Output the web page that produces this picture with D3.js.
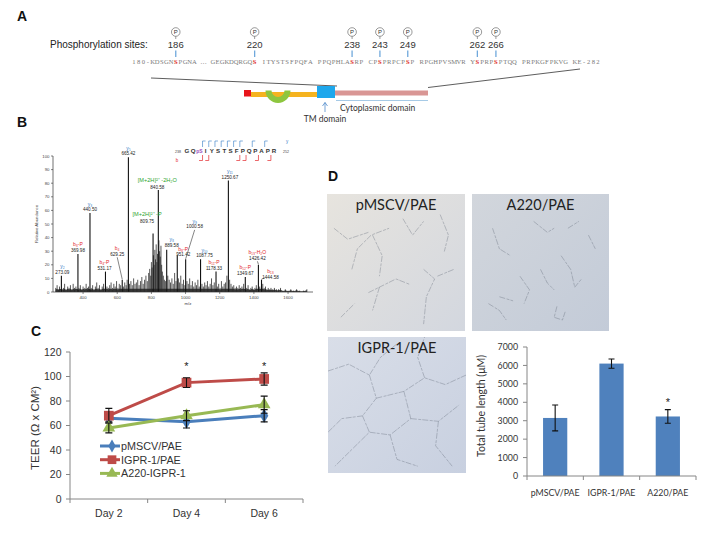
<!DOCTYPE html>
<html><head><meta charset="utf-8">
<script src="https://cdn.jsdelivr.net/npm/d3@7/dist/d3.min.js"></script>
<style>body{margin:0;background:#fff;overflow:hidden}</style>
</head><body><svg id="fig" width="704" height="533"></svg>
<script>
// ================= DATA =================
// Panel A: phosphorylation sites
const seqText = "180-KDSGNSPGNA \u2026 GEGKDQRGQS ITYSTSFPQFA PPQPHLASRP CPSPRPCPSP RPGHPVSMVR YSPRPSPTQQ PRPKGFPKVG KE-282";
const phosphoSites = [186, 220, 238, 243, 249, 262, 266];
const phosphoCharIndex = [9, 26, 47, 53, 59, 74, 78];

// Panel B: MS/MS spectrum
const peakMz   = [273.09, 369.98, 440.50, 531.17, 629.25, 665.42, 809.75, 840.58, 889.58, 951.42, 1000.58, 1087.75, 1178.33, 1250.67, 1349.67, 1426.42, 1444.58];
const peakInt  = [12, 28, 58, 15, 9, 99, 43, 75, 31, 27, 24, 24, 15, 82, 11, 20, 9];
const peakIon  = ["y\u2082","b\u2083-P","y\u2083","b\u2084-P","b\u2084","y\u2085","[M+2H]\u00b2\u207a -P","[M+2H]\u00b2\u207a -2H\u2082O","y\u2088","b\u2088-P","y\u2089","y\u2081\u2080","b\u2081\u2081-P","y\u2081\u2081","b\u2081\u2082-P","b\u2081\u2083-H\u2082O","b\u2081\u2083"];
const peakType = ["y","b","y","b","b","y","M","M","y","b","y","y","b","y","b","b","b"];
const minorPeaks = [
 [240,3],[248,5],[256,2],[262,4],[285,3],[292,6],[300,2],[310,4],[318,3],[326,5],[334,2],[342,6],[350,3],[358,4],[376,3],[384,5],[392,2],[400,4],[410,3],[418,6],[426,3],[432,4],[448,3],[456,5],[464,2],[472,4],[480,7],[488,3],[496,5],[504,2],[512,4],[520,6],[540,4],[548,3],[556,5],[564,7],[572,3],[580,6],[588,4],[596,8],[604,3],[612,6],[620,5],[636,4],[644,7],[652,5],[658,9],[672,6],[680,8],[688,5],[696,10],[704,6],[712,7],[720,9],[728,5],[736,8],[744,11],[752,6],[760,9],[768,12],[776,8],[784,14],[790,17],[796,12],[800,22],[804,18],[812,27],[816,20],[820,31],[824,24],[828,35],[832,22],[836,28],[844,38],[848,30],[852,26],[856,34],[860,20],[864,15],[870,12],[876,9],[882,8],[896,12],[904,9],[912,7],[920,10],[928,6],[936,14],[944,8],[958,10],[964,7],[972,12],[980,6],[988,9],[996,5],[1008,8],[1016,6],[1024,10],[1032,5],[1040,8],[1048,4],[1056,7],[1064,5],[1072,9],[1080,4],[1096,6],[1104,4],[1112,7],[1120,5],[1128,8],[1136,4],[1144,6],[1152,10],[1160,5],[1168,7],[1186,4],[1194,6],[1202,3],[1210,8],[1218,4],[1226,6],[1234,7],[1242,12],[1258,9],[1266,6],[1274,4],[1282,5],[1290,3],[1298,4],[1306,3],[1314,5],[1322,3],[1330,4],[1340,6],[1358,3],[1366,5],[1374,2],[1382,3],[1390,4],[1398,2],[1406,3],[1414,5],[1434,4],[1452,6],[1460,3],[1468,4],[1476,2],[1484,3],[1492,2],[1500,3],[1510,2],[1520,3],[1532,2],[1544,2],[1556,3],[1570,1],[1584,2],[1600,1],[1616,2],[1632,1],[1650,2],[1668,1],[1690,1],[1710,2]
];
const msYTicks = [0,10,20,30,40,50,60,70,80,90,100];
const msXTicks = [400,600,800,1000,1200,1400,1600];
const pepTokens = ["G","Q","pS","I","Y","S","T","S","F","P","Q","P","A","P","R"];
const pepYBreaks = [3,4,5,6,7,8,9,11,13];
const pepBBreaks = [2,3,8,9,11,13];

// Panel C: TEER
const days = ["Day 2","Day 4","Day 6"];
const teerNames = ["pMSCV/PAE","IGPR-1/PAE","A220-IGPR-1"];
const teerPMSCV = [66, 63, 68];
const teerPMSCVErr = [3, 5, 5];
const teerIGPR = [68, 95, 98];
const teerIGPRErr = [6, 4, 5];
const teerA220 = [58, 68, 77];
const teerA220Err = [4, 4, 7];
const teerTicks = [0,20,40,60,80,100,120];
const teerSig = ["Day 4","Day 6"];

// Panel D: tube formation
const imageLabels = ["pMSCV/PAE","A220/PAE","IGPR-1/PAE"];
const tubeGroups = ["pMSCV/PAE","IGPR-1/PAE","A220/PAE"];
const tubeLength = [3150, 6100, 3230];
const tubeErr = [700, 250, 370];
const tubeTicks = [0,1000,2000,3000,4000,5000,6000,7000];
const tubeSig = ["A220/PAE"];

// ================= DRAWING =================
const svg = d3.select("#fig");
const SANS = "'Liberation Sans', Arial, sans-serif";
const CAL = "Lato, 'Open Sans', sans-serif";

// panel letters
[["A",17,21],["B",17,127],["C",31,336],["D",328,181]].forEach(([t,x,y])=>{
  svg.append("text").attr("x",x).attr("y",y).text(t)
    .attr("font-family",SANS).attr("font-weight","bold").attr("font-size",14).attr("fill","#111");
});

// ---------- Panel A ----------
const gA = svg.append("g");
const charStep = 4.64, charX0 = 134;
const charX = i => charX0 + i*charStep;
gA.append("text").attr("x",50).attr("y",48).text("Phosphorylation sites:")
  .attr("font-family",SANS).attr("font-size",10).attr("fill","#222");
gA.selectAll("text.seq").data(seqText.split("")).join("text").attr("class","seq")
  .attr("x",(d,i)=>charX(i)).attr("y",64).attr("text-anchor","middle")
  .attr("font-family","'Liberation Serif', serif").attr("font-size",6.6)
  .attr("fill",(d,i)=>phosphoCharIndex.includes(i)?"#e0302a":"#7a7a7a")
  .attr("font-weight",(d,i)=>phosphoCharIndex.includes(i)?"bold":"normal")
  .text(d=>d);
const sites = gA.selectAll("g.site").data(phosphoSites).join("g").attr("class","site")
  .attr("transform",(d,i)=>`translate(${charX(phosphoCharIndex[i])},0)`);
sites.append("circle").attr("cy",32).attr("r",4.3).attr("fill","#fff").attr("stroke","#555").attr("stroke-width",0.6);
sites.append("text").attr("y",34.2).attr("text-anchor","middle").attr("font-family",SANS).attr("font-size",6).attr("fill","#333").text("P");
sites.append("line").attr("y1",36.3).attr("y2",39).attr("stroke","#555").attr("stroke-width",0.6);
sites.append("text").attr("y",48).attr("text-anchor","middle").attr("font-family",SANS).attr("font-size",9.5).attr("fill","#333").text(d=>d);
sites.append("line").attr("y1",50.5).attr("y2",57).attr("stroke","#6fa8dc").attr("stroke-width",1.3);
// domain diagram
gA.append("line").attr("x1",151).attr("y1",78).attr("x2",337).attr("y2",86).attr("stroke","#333").attr("stroke-width",0.8);
gA.append("line").attr("x1",580).attr("y1",69).attr("x2",428).attr("y2",87.5).attr("stroke","#333").attr("stroke-width",0.8);
gA.append("rect").attr("x",251).attr("y",92).attr("width",67).attr("height",5).attr("fill","#f5b31f");
gA.append("path").attr("transform","translate(278,90.5)")
  .attr("d",d3.arc().innerRadius(6.5).outerRadius(12.5).startAngle(Math.PI/2).endAngle(3*Math.PI/2)())
  .attr("fill","#8dc63f");
gA.append("rect").attr("x",244).attr("y",90).attr("width",7).attr("height",6.5).attr("fill","#e8141b");
gA.append("rect").attr("x",335).attr("y",90.5).attr("width",93).attr("height",5).attr("fill","#d99694");
gA.append("rect").attr("x",317).attr("y",86).attr("width",18).attr("height",12).attr("fill","#1ea7ec");
gA.append("line").attr("x1",336).attr("x2",428).attr("y1",100.5).attr("y2",100.5).attr("stroke","#8fbde0").attr("stroke-width",0.8);
gA.append("text").attr("x",340).attr("y",111).text("Cytoplasmic  domain").attr("font-family",CAL).attr("font-size",8.5).attr("fill","#333");
gA.append("line").attr("x1",325).attr("x2",325).attr("y1",112).attr("y2",102.5).attr("stroke","#3b7dc4").attr("stroke-width",0.7);
gA.append("path").attr("d","M322.5,106 L325,102.5 L327.5,106").attr("fill","none").attr("stroke","#3b7dc4").attr("stroke-width",0.7);
gA.append("text").attr("x",325).attr("y",121.5).attr("text-anchor","middle").text("TM domain").attr("font-family",CAL).attr("font-size",8.5).attr("fill","#333");

// ---------- Panel B ----------
const gB = svg.append("g");
const xB = d3.scaleLinear().domain([224,1746]).range([53,313]);
const yB = d3.scaleLinear().domain([0,100]).range([292,156]);
const ionColor = {y:"#2f78c4", b:"#e3262b", M:"#2ea52e"};
gB.selectAll("line.minor").data(minorPeaks).join("line").attr("class","minor")
  .attr("x1",d=>xB(d[0])).attr("x2",d=>xB(d[0])).attr("y1",yB(0)).attr("y2",d=>yB(d[1]))
  .attr("stroke","#111").attr("stroke-width",0.7);
gB.append("path").datum(minorPeaks).attr("fill","#222").attr("opacity",0.85)
  .attr("d",d3.area().x(d=>xB(d[0])).y0(yB(0)).y1(d=>yB(Math.min(d[1],4)*0.6)));
gB.selectAll("line.major").data(peakMz).join("line").attr("class","major")
  .attr("x1",d=>xB(d)).attr("x2",d=>xB(d)).attr("y1",yB(0)).attr("y2",(d,i)=>yB(peakInt[i]))
  .attr("stroke","#111").attr("stroke-width",1.1);
// axes
gB.append("line").attr("x1",53).attr("x2",53).attr("y1",yB(0)).attr("y2",yB(100)).attr("stroke","#333").attr("stroke-width",0.7);
gB.append("line").attr("x1",53).attr("x2",313).attr("y1",yB(0)).attr("y2",yB(0)).attr("stroke","#333").attr("stroke-width",0.7);
gB.selectAll("g.yt").data(msYTicks).join("g").attr("class","yt").each(function(d){
  const g=d3.select(this);
  g.append("line").attr("x1",51).attr("x2",53).attr("y1",yB(d)).attr("y2",yB(d)).attr("stroke","#333").attr("stroke-width",0.6);
  g.append("text").attr("x",49.5).attr("y",yB(d)+1.5).attr("text-anchor","end").attr("font-family",SANS).attr("font-size",4.3).attr("fill","#444").text(d);
});
gB.selectAll("g.xt").data(msXTicks).join("g").attr("class","xt").each(function(d){
  const g=d3.select(this);
  g.append("line").attr("x1",xB(d)).attr("x2",xB(d)).attr("y1",yB(0)).attr("y2",yB(0)+2).attr("stroke","#333").attr("stroke-width",0.6);
  g.append("text").attr("x",xB(d)).attr("y",299).attr("text-anchor","middle").attr("font-family",SANS).attr("font-size",4.3).attr("fill","#444").text(d);
});
gB.append("text").attr("transform","translate(38,224) rotate(-90)").attr("text-anchor","middle").attr("font-family",SANS).attr("font-size",4.3).attr("fill","#444").text("Relative Abundance");
gB.append("text").attr("x",188).attr("y",304.5).attr("text-anchor","middle").attr("font-family",SANS).attr("font-size",4.3).attr("fill","#444").text("m/z");
// peak labels
const peakLabelLayout = [
 {dx:1,dy:-2},{dx:0,dy:-2},{dx:0,dy:-2},{dx:-1,dy:-2},{dx:-5,dy:-24,leader:1},{dx:0,dy:-2},
 {dx:-6,dy:-11},{dx:-1,dy:-1.5},{dx:5,dy:-3},{dx:6,dy:1},{dx:9,dy:-31,leader:1},{dx:4,dy:-2},
 {dx:-2,dy:-2},{dx:1.5,dy:-1.5},{dx:0,dy:-2.5},{dx:-1,dy:-5,leader:1},{dx:9,dy:-1,leader:1,lsx:-6,lsy:-1}
];
peakMz.forEach((mz,i)=>{
  const L = peakLabelLayout[i];
  const px = xB(mz), top = yB(peakInt[i]);
  const ax = px+L.dx, ay = top+L.dy;
  const big = peakType[i]==="M";
  gB.append("text").attr("x",ax).attr("y",ay-(big?6.5:5.5)).attr("text-anchor","middle")
    .attr("font-family",SANS).attr("font-size",big?5.6:5).attr("fill",ionColor[peakType[i]]).text(peakIon[i]);
  gB.append("text").attr("x",ax).attr("y",ay).attr("text-anchor","middle")
    .attr("font-family",SANS).attr("font-size",4.6).attr("fill","#222").text(mz.toFixed(2));
  if(L.leader){
    const sx = ax+(L.lsx||0), sy = ay+(L.lsy!==undefined?L.lsy:1.5);
    gB.append("line").attr("x1",sx).attr("y1",sy).attr("x2",px).attr("y2",top-0.5).attr("stroke","#333").attr("stroke-width",0.6);
  }
});
// peptide sequence annotation
const xPep = d3.scalePoint().domain(d3.range(pepTokens.length)).range([187,274]);
gB.append("text").attr("x",178).attr("y",152.5).attr("text-anchor","middle").attr("font-family",SANS).attr("font-size",3.6).attr("fill","#444").text("238");
gB.append("text").attr("x",286).attr("y",152.5).attr("text-anchor","middle").attr("font-family",SANS).attr("font-size",3.6).attr("fill","#444").text("252");
gB.selectAll("text.pep").data(pepTokens).join("text").attr("class","pep")
  .attr("x",(d,i)=>xPep(i)).attr("y",152.5).attr("text-anchor","middle")
  .attr("font-family",SANS).attr("font-weight","bold").attr("font-size",(d)=>d==="pS"?5:6.2)
  .attr("fill",d=>d==="pS"?"#9b4fc0":"#333").text(d=>d);
const half = (xPep(1)-xPep(0))/2;
gB.selectAll("path.yb").data(pepYBreaks).join("path").attr("class","yb")
  .attr("d",d=>{const x=xPep(d)-half; return `M${x},147 L${x},141 L${x+3},141`;})
  .attr("fill","none").attr("stroke","#2f78c4").attr("stroke-width",0.6);
gB.selectAll("path.bb").data(pepBBreaks).join("path").attr("class","bb")
  .attr("d",d=>{const x=xPep(d)+half; return `M${x},155 L${x},160.5 L${x-3.5},160.5`;})
  .attr("fill","none").attr("stroke","#e3262b").attr("stroke-width",0.7);
gB.append("text").attr("x",287).attr("y",142.5).attr("text-anchor","middle").attr("font-family",SANS).attr("font-size",4.5).attr("fill","#2f78c4").text("y");
gB.append("text").attr("x",177).attr("y",162).attr("text-anchor","middle").attr("font-family",SANS).attr("font-size",4.5).attr("fill","#e3262b").text("b");

// ---------- Panel C ----------
const gC = svg.append("g");
const xC = d3.scaleBand().domain(days).range([70,303]);
const yC = d3.scaleLinear().domain([0,120]).range([499,352]);
const cx = d => xC(d)+xC.bandwidth()/2;
gC.append("line").attr("x1",70).attr("x2",70).attr("y1",yC(0)).attr("y2",yC(120)).attr("stroke","#868686");
gC.append("line").attr("x1",70).attr("x2",303).attr("y1",yC(0)).attr("y2",yC(0)).attr("stroke","#868686");
teerTicks.forEach(t=>{
  gC.append("line").attr("x1",66).attr("x2",70).attr("y1",yC(t)).attr("y2",yC(t)).attr("stroke","#868686");
  gC.append("text").attr("x",61.5).attr("y",yC(t)).attr("dy","0.36em").attr("text-anchor","end")
    .attr("font-family",SANS).attr("font-size",10.5).attr("fill","#333").text(t);
});
[...days.map(d=>xC(d)),303].forEach(x=>{
  gC.append("line").attr("x1",x).attr("x2",x).attr("y1",yC(0)).attr("y2",yC(0)+4).attr("stroke","#868686");
});
days.forEach(d=>gC.append("text").attr("x",cx(d)).attr("y",516.5).attr("text-anchor","middle")
  .attr("font-family",SANS).attr("font-size",10.5).attr("fill","#333").text(d));
gC.append("text").attr("transform","translate(39,428) rotate(-90)").attr("text-anchor","middle")
  .attr("font-family",SANS).attr("font-size",11.5).attr("fill","#333").text("TEER (\u03a9 x CM\u00b2)");

const series = [
  {name:teerNames[0], vals:teerPMSCV, err:teerPMSCVErr, color:"#4a7ebb", shape:d3.symbolDiamond, size:60},
  {name:teerNames[1], vals:teerIGPR,  err:teerIGPRErr,  color:"#be4b48", shape:d3.symbolSquare,  size:95},
  {name:teerNames[2], vals:teerA220,  err:teerA220Err,  color:"#98b954", shape:d3.symbolTriangle,size:70}
];
const lineC = d3.line().x(d=>cx(d.day)).y(d=>yC(d.v));
series.forEach(s=>{
  const pts = days.map((d,i)=>({day:d,v:s.vals[i],e:s.err[i]}));
  gC.append("path").datum(pts).attr("d",lineC).attr("fill","none").attr("stroke",s.color).attr("stroke-width",3);
  gC.selectAll(null).data(pts).join("path").attr("transform",d=>`translate(${cx(d.day)},${yC(d.v)})`)
    .attr("d",d3.symbol().type(s.shape).size(s.size)).attr("fill",s.color);
  pts.forEach(d=>{
    const x=cx(d.day), y1=yC(d.v-d.e), y2=yC(d.v+d.e);
    gC.append("path").attr("d",`M${x},${y1}V${y2}M${x-3.5},${y1}H${x+3.5}M${x-3.5},${y2}H${x+3.5}`)
      .attr("stroke","#111").attr("stroke-width",1.1).attr("fill","none");
  });
});
teerSig.forEach(d=>gC.append("text").attr("x",cx(d)).attr("y",369.5).attr("text-anchor","middle")
  .attr("font-family",SANS).attr("font-size",11).attr("fill","#222").text("*"));
// legend
const leg = gC.selectAll("g.leg").data(series).join("g").attr("class","leg")
  .attr("transform",(d,i)=>`translate(100,${446+i*13.7})`);
leg.append("line").attr("x1",0).attr("x2",20).attr("stroke",d=>d.color).attr("stroke-width",3);
leg.append("path").attr("transform","translate(12,0)").attr("d",d=>d3.symbol().type(d.shape).size(d.size*0.8)()).attr("fill",d=>d.color);
leg.append("text").attr("x",21).attr("dy","0.36em").attr("font-family",SANS).attr("font-size",10.8).attr("fill","#333").text(d=>d.name);

// ---------- Panel D micrographs ----------
const defs = svg.append("defs");
const imgs = [
  {label:imageLabels[0], x:327, y:194, w:138, h:137, c1:"#e7e4de", c2:"#d3d7df"},
  {label:imageLabels[1], x:472, y:194, w:137, h:137, c1:"#d2d6dc", c2:"#c3cbd8"},
  {label:imageLabels[2], x:328, y:337, w:138, h:136, c1:"#d9dee8", c2:"#c8d0e0"}
];
const textures = [
  [[[.05,.25],[.15,.33],[.3,.28]],[[.18,.55],[.22,.4],[.32,.3],[.45,.25]],[[.33,.3],[.4,.45],[.38,.6]],[[.3,.72],[.38,.68],[.5,.62],[.6,.66]],[[.38,.68],[.33,.85]],[[.55,.18],[.62,.3],[.7,.2]],[[.7,.55],[.78,.62],[.72,.75],[.7,.95]],[[.8,.6],[.92,.55]],[[.82,.15],[.88,.3],[.85,.42]],[[.1,.9],[.2,.8]]],
  [[[.15,.25],[.2,.4],[.28,.45]],[[.45,.2],[.55,.28],[.6,.25]],[[.35,.6],[.42,.7],[.38,.8]],[[.5,.55],[.55,.65],[.6,.7]],[[.65,.45],[.72,.55],[.75,.68],[.8,.62]],[[.2,.75],[.3,.78]],[[.12,.8],[.2,.85],[.25,.92]],[[.62,.82],[.6,.9],[.66,.92],[.68,.86]],[[.85,.3],[.9,.4]],[[.7,.25],[.78,.2]]],
  [[[.0,.25],[.15,.2],[.3,.28],[.38,.15],[.5,.05]],[[.3,.28],[.35,.45],[.25,.58],[.1,.6],[0,.7]],[[.35,.45],[.55,.4],[.7,.3],[.85,.35],[1,.28]],[[.55,.4],[.6,.6],[.45,.72],[.3,.7]],[[.6,.6],[.8,.62],[.95,.5]],[[.45,.72],[.5,.9],[.65,.95]],[[.8,.62],[.78,.8],[.9,.95]],[[.25,.58],[.3,.7],[.15,.85],[.05,.95]],[[.7,.3],[.65,.15],[.7,0]]]
];
imgs.forEach((im,k)=>{
  const gid="gr"+k;
  const gr=defs.append("linearGradient").attr("id",gid).attr("x1",0).attr("y1",0).attr("x2",1).attr("y2",1);
  gr.append("stop").attr("offset","0%").attr("stop-color",im.c1);
  gr.append("stop").attr("offset","100%").attr("stop-color",im.c2);
  const g=svg.append("g").attr("transform",`translate(${im.x},${im.y})`);
  g.append("rect").attr("width",im.w).attr("height",im.h).attr("fill",`url(#${gid})`);
  const sx=d3.scaleLinear().range([0,im.w]), sy=d3.scaleLinear().range([0,im.h]);
  const ln=d3.line().x(d=>sx(d[0])).y(d=>sy(d[1]));
  g.selectAll("path").data(textures[k]).join("path").attr("d",ln).attr("fill","none")
    .attr("stroke","#5d6372").attr("stroke-opacity",0.35).attr("stroke-width",1)
    .attr("stroke-dasharray","6 1.5 3 1");
  g.append("text").attr("x",im.w/2).attr("y",15.5).attr("text-anchor","middle")
    .attr("font-family",CAL).attr("font-size",14.5).attr("fill","#222").text(im.label);
});

// ---------- Panel D bar chart ----------
const gD = svg.append("g");
const xD = d3.scaleBand().domain(tubeGroups).range([527,696]);
const yD = d3.scaleLinear().domain([0,7000]).range([476,347]);
const bw = xD.bandwidth()*0.43;
gD.selectAll("rect").data(tubeGroups).join("rect")
  .attr("x",d=>xD(d)+xD.bandwidth()/2-bw/2).attr("width",bw)
  .attr("y",(d,i)=>yD(tubeLength[i])).attr("height",(d,i)=>yD(0)-yD(tubeLength[i]))
  .attr("fill","#4f81bd");
tubeGroups.forEach((d,i)=>{
  const x=xD(d)+xD.bandwidth()/2, y1=yD(tubeLength[i]-tubeErr[i]), y2=yD(tubeLength[i]+tubeErr[i]);
  gD.append("path").attr("d",`M${x},${y1}V${y2}M${x-3},${y1}H${x+3}M${x-3},${y2}H${x+3}`)
    .attr("stroke","#111").attr("stroke-width",1.1).attr("fill","none");
});
gD.append("line").attr("x1",527).attr("x2",527).attr("y1",yD(0)).attr("y2",yD(7000)).attr("stroke","#868686");
gD.append("line").attr("x1",527).attr("x2",696).attr("y1",yD(0)).attr("y2",yD(0)).attr("stroke","#868686");
tubeTicks.forEach(t=>{
  gD.append("line").attr("x1",523).attr("x2",527).attr("y1",yD(t)).attr("y2",yD(t)).attr("stroke","#868686");
  gD.append("text").attr("x",518).attr("y",yD(t)).attr("dy","0.36em").attr("text-anchor","end")
    .attr("font-family",CAL).attr("font-size",8.8).attr("fill","#333").text(t);
});
[...tubeGroups.map(d=>xD(d)),696].forEach(x=>{
  gD.append("line").attr("x1",x).attr("x2",x).attr("y1",yD(0)).attr("y2",yD(0)+4).attr("stroke","#868686");
});
tubeGroups.forEach(d=>gD.append("text").attr("x",xD(d)+xD.bandwidth()/2).attr("y",495.5).attr("text-anchor","middle")
  .attr("font-family",CAL).attr("font-size",8.8).attr("fill","#333").text(d));
gD.append("text").attr("transform","translate(485,406) rotate(-90)").attr("text-anchor","middle")
  .attr("font-family",CAL).attr("font-size",10.5).attr("fill","#333").text("Total tube length (\u03bcM)");
tubeSig.forEach(d=>{
  const i=tubeGroups.indexOf(d);
  gD.append("text").attr("x",xD(d)+xD.bandwidth()/2).attr("y",yD(tubeLength[i]+tubeErr[i])-4)
    .attr("text-anchor","middle").attr("font-family",SANS).attr("font-size",11).attr("fill","#222").text("*");
});
</script></body></html>
